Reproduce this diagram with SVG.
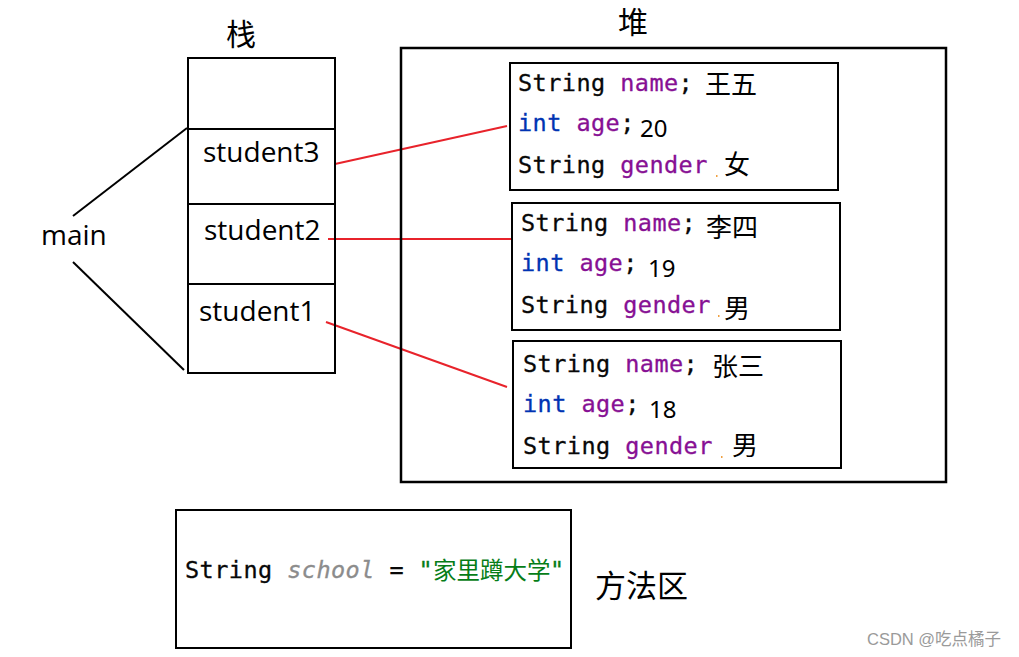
<svg xmlns="http://www.w3.org/2000/svg" width="1019" height="657" viewBox="0 0 1019 657">
<style>
.bg{fill:#ffffff}
.box{fill:none;stroke:#000;stroke-width:2}
.heap{fill:none;stroke:#000;stroke-width:2.5}
.bl{stroke:#000;stroke-width:2;fill:none}
.red{stroke:#e8232b;stroke-width:2;fill:none}
.code{font-family:"DejaVu Sans Mono","Liberation Mono",monospace;font-size:23.5px;letter-spacing:0.45px;fill:#080808;stroke:#080808;stroke-width:0.3}
.kw{fill:#0033b3;stroke:#0033b3}
.fld{fill:#871094;stroke:#871094}
.st{fill:#8c8c8c;stroke:#8c8c8c;font-style:italic}
.str{fill:#067d17;stroke:#067d17}
.cjk{font-family:"Noto Sans CJK SC",sans-serif;font-size:26px;fill:#000}
.num{font-family:"Noto Sans","Open Sans",sans-serif;font-size:24px;fill:#000}
.lbl{font-family:"Open Sans","Noto Sans",sans-serif;font-size:28px;fill:#000}
.title{font-family:"Noto Sans CJK SC",sans-serif;font-size:30px;fill:#000}
.wm{font-family:"Liberation Sans","Noto Sans CJK SC",sans-serif;font-size:16.5px;fill:#9a9a9a}
</style>
<rect class="bg" x="0" y="0" width="1019" height="657"/>

<g id="connectors">
<line class="bl" x1="73" y1="216" x2="187" y2="128"/>
<line class="bl" x1="73" y1="262" x2="184" y2="370"/>
<line class="red" x1="335" y1="164" x2="507" y2="126"/>
<line class="red" x1="328" y1="239" x2="511" y2="239"/>
<line class="red" x1="326" y1="322" x2="507" y2="387"/>
</g>

<g id="stack-title"><text class="title" x="241" y="45" text-anchor="middle">栈</text></g>
<g id="stack">
<rect class="box" x="188" y="58" width="147" height="315"/>
<line class="bl" x1="188" y1="129" x2="334" y2="129"/>
<line class="bl" x1="188" y1="204" x2="335" y2="204"/>
<line class="bl" x1="188" y1="284" x2="334" y2="284"/>
</g>
<g id="student3"><text class="lbl" x="203" y="162">student3</text></g>
<g id="student2"><text class="lbl" x="204" y="240">student2</text></g>
<g id="student1"><text class="lbl" x="199" y="321">student1</text></g>
<g id="main"><text class="lbl" x="41" y="245">main</text></g>

<g id="heap-title"><text class="title" x="633" y="33" text-anchor="middle">堆</text></g>
<g id="heap"><rect class="heap" x="401" y="48" width="545" height="434"/></g>

<g id="obj3">
<rect class="box" x="510" y="63" width="328" height="127"/>
<text class="code" x="518" y="91">String <tspan class="fld">name</tspan>;</text>
<text class="cjk" x="705" y="94">王五</text>
<text class="code" x="518" y="131"><tspan class="kw">int</tspan> <tspan class="fld">age</tspan>;</text>
<text class="num" x="640" y="137">20</text>
<text class="code" x="518" y="173">String <tspan class="fld">gender</tspan></text>
<rect x="716" y="175" width="1.5" height="2" fill="#f0a040"/>
<text class="cjk" x="724" y="174">女</text>
</g>

<g id="obj2">
<rect class="box" x="512" y="203" width="328" height="127"/>
<text class="code" x="521" y="231">String <tspan class="fld">name</tspan>;</text>
<text class="cjk" x="706" y="237">李四</text>
<text class="code" x="521" y="271"><tspan class="kw">int</tspan> <tspan class="fld">age</tspan>;</text>
<text class="num" x="648" y="277">19</text>
<text class="code" x="521" y="313">String <tspan class="fld">gender</tspan></text>
<rect x="718" y="315" width="1.5" height="2" fill="#f0a040"/>
<text class="cjk" x="724" y="318">男</text>
</g>

<g id="obj1">
<rect class="box" x="513" y="341" width="328" height="127"/>
<text class="code" x="523" y="372">String <tspan class="fld">name</tspan>;</text>
<text class="cjk" x="712" y="376">张三</text>
<text class="code" x="523" y="412"><tspan class="kw">int</tspan> <tspan class="fld">age</tspan>;</text>
<text class="num" x="649" y="418">18</text>
<text class="code" x="523" y="454">String <tspan class="fld">gender</tspan></text>
<rect x="721" y="456" width="1.5" height="2" fill="#f0a040"/>
<text class="cjk" x="732" y="455">男</text>
</g>

<g id="method-area">
<rect class="box" x="176" y="510" width="395" height="138"/>
<text class="code" x="185" y="578">String <tspan class="st">school</tspan> = <tspan class="str">"</tspan></text>
<text x="433" y="579" style="font-family:'Noto Sans CJK SC',sans-serif;font-size:23.5px;fill:#067d17">家里蹲大学</text>
<text class="code" x="550" y="578"><tspan class="str">"</tspan></text>
</g>
<g id="method-title"><text x="595" y="597" style="font-family:'Noto Sans CJK SC',sans-serif;font-size:31px;fill:#000">方法区</text></g>

<g id="watermark"><text class="wm" x="867" y="645">CSDN @吃点橘子</text></g>
</svg>
